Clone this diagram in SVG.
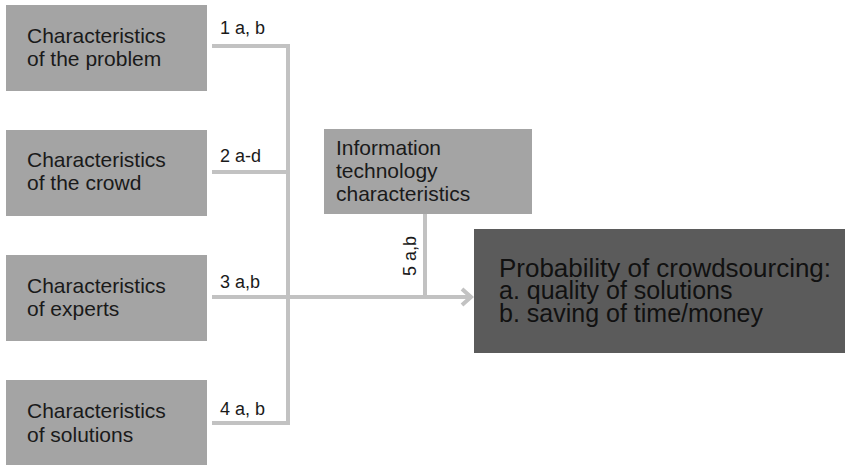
<svg xmlns="http://www.w3.org/2000/svg" width="845" height="465" viewBox="0 0 845 465">
<style>
.box{fill:#a4a4a4;}
.t{font-family:"Liberation Sans",Arial,sans-serif;font-size:21px;fill:#1a1a1a;}
.lbl{font-family:"Liberation Sans",Arial,sans-serif;font-size:18px;fill:#1a1a1a;}
.big{font-family:"Liberation Sans",Arial,sans-serif;font-size:25px;fill:#111;}
.ln{stroke:#c2c2c2;stroke-width:4;fill:none;}
</style>
<rect width="845" height="465" fill="#fff"/>
<g id="connectors">
<path class="ln" d="M212 46 H288 V423 H212"/>
<path class="ln" d="M212 172 H288"/>
<path class="ln" d="M212 297 H470"/>
<path class="ln" d="M425 214 V297"/>
<polyline class="ln" points="462,289 471,297 462,305" stroke-width="3.5"/>
<text class="lbl" x="220" y="34">1 a, b</text>
<text class="lbl" x="220" y="162">2 a-d</text>
<text class="lbl" x="220" y="288">3 a,b</text>
<text class="lbl" x="220" y="415">4 a, b</text>
<text class="lbl" transform="translate(416,276) rotate(-90)">5 a,b</text>
</g>
<g id="problem">
<rect class="box" x="6" y="5" width="201" height="86"/>
<text class="t" x="27" y="43">Characteristics</text>
<text class="t" x="27" y="66">of the problem</text>
</g>
<g id="crowd">
<rect class="box" x="6" y="130" width="201" height="86"/>
<text class="t" x="27" y="167">Characteristics</text>
<text class="t" x="27" y="190">of the crowd</text>
</g>
<g id="experts">
<rect class="box" x="6" y="255" width="201" height="86"/>
<text class="t" x="27" y="293">Characteristics</text>
<text class="t" x="27" y="316">of experts</text>
</g>
<g id="solutions">
<rect class="box" x="6" y="380" width="201" height="85"/>
<text class="t" x="27" y="418">Characteristics</text>
<text class="t" x="27" y="442">of solutions</text>
</g>
<g id="it">
<rect class="box" x="324" y="129" width="208" height="85" fill="#a9a9a9"/>
<text class="t" x="336" y="155">Information</text>
<text class="t" x="336" y="178">technology</text>
<text class="t" x="336" y="201">characteristics</text>
</g>
<g id="probability">
<rect x="474" y="229" width="371" height="124" fill="#5b5b5b"/>
<text class="big" x="499" y="277" textLength="332" lengthAdjust="spacingAndGlyphs">Probability of crowdsourcing:</text>
<text class="big" x="499" y="299">a. quality of solutions</text>
<text class="big" x="499" y="322">b. saving of time/money</text>
</g>
</svg>
